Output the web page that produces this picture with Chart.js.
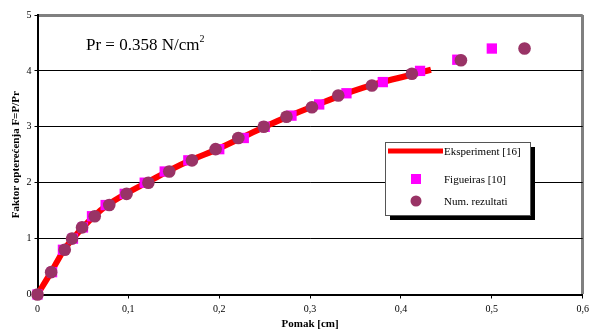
<!DOCTYPE html>
<html><head><meta charset="utf-8">
<script src="https://cdn.jsdelivr.net/npm/chart.js@4/dist/chart.umd.min.js"></script>
<style>html,body{margin:0;padding:0;background:#fff;}canvas{display:block;}</style>
</head><body>
<canvas id="c" width="590" height="331"></canvas>
<script>
const xTickLabels = ['0','0,1','0,2','0,3','0,4','0,5','0,6'];
const yTickLabels = ['0','1','2','3','4','5'];
const seriesLabels = ['Eksperiment [16]','Figueiras [10]','Num. rezultati'];

const expX = [0,0.015,0.029,0.039,0.05,0.062,0.077,0.097,0.12,0.143,0.168,0.198,0.224,0.25,0.278,0.307,0.337,0.375,0.433];
const expY = [0,0.4,0.8,1.0,1.2,1.4,1.6,1.8,2.0,2.2,2.4,2.6,2.8,3.0,3.2,3.39,3.58,3.78,4.02];

const figX = [0,0.016,0.028,0.039,0.05,0.06,0.075,0.096,0.118,0.14,0.166,0.2,0.227,0.25,0.2795,0.31,0.34,0.38,0.421,0.462,0.5];
const figY = [0,0.4,0.8,1.0,1.2,1.4,1.6,1.8,2.0,2.2,2.4,2.6,2.8,3.0,3.2,3.4,3.6,3.8,4.0,4.2,4.4];

const numX = [0,0.015,0.03,0.038,0.049,0.063,0.079,0.098,0.122,0.145,0.17,0.196,0.221,0.249,0.274,0.302,0.331,0.368,0.412,0.466,0.536];
const numY = [0,0.4,0.8,1.0,1.2,1.4,1.6,1.8,2.0,2.2,2.4,2.6,2.8,3.0,3.18,3.35,3.56,3.74,3.95,4.19,4.4];

const annotationText = 'Pr = 0.358 N/cm';
const annotationSup = '2';

const toPts = (xs, ys) => xs.map((x, i) => ({x: x, y: ys[i]}));
const SERIF = '"Liberation Serif", "Times New Roman", serif';

const legendPlugin = {
  id: 'boxLegend',
  afterDraw(chart) {
    const ctx = chart.ctx;
    const byLabel = (l) => chart.data.datasets.find(d => d.label === l);
    const dExp = byLabel(seriesLabels[0]), dFig = byLabel(seriesLabels[1]), dNum = byLabel(seriesLabels[2]);
    const bx = 385, by = 142, bw = 145, bh = 73;
    ctx.save();
    ctx.fillStyle = '#000';
    ctx.fillRect(bx + 5, by + 5, bw, bh);
    ctx.fillStyle = '#fff';
    ctx.fillRect(bx, by, bw, bh);
    ctx.strokeStyle = '#555';
    ctx.lineWidth = 1;
    ctx.strokeRect(bx + 0.5, by + 0.5, bw, bh);
    ctx.font = '11px ' + SERIF;
    ctx.textBaseline = 'middle';
    const rows = [151, 179, 201];
    ctx.strokeStyle = dExp.borderColor;
    ctx.lineWidth = 5;
    ctx.beginPath(); ctx.moveTo(388, rows[0]); ctx.lineTo(443, rows[0]); ctx.stroke();
    ctx.fillStyle = dFig.pointBackgroundColor;
    ctx.fillRect(411, rows[1] - 5, 10, 10);
    ctx.fillStyle = dNum.pointBackgroundColor;
    ctx.beginPath(); ctx.arc(416, rows[2], 5.5, 0, Math.PI * 2); ctx.fill();
    ctx.fillStyle = '#000';
    seriesLabels.forEach((t, i) => ctx.fillText(t, 444, rows[i] + 1));
    ctx.restore();
  }
};

const textPlugin = {
  id: 'prText',
  afterDraw(chart) {
    const ctx = chart.ctx;
    ctx.save();
    ctx.fillStyle = '#000';
    ctx.textBaseline = 'alphabetic';
    ctx.font = '17px ' + SERIF;
    ctx.fillText(annotationText, 86, 49.5);
    const w = ctx.measureText(annotationText).width;
    ctx.font = '10px ' + SERIF;
    ctx.fillText(annotationSup, 86 + w, 42);
    ctx.restore();
  }
};

new Chart(document.getElementById('c'), {
  type: 'scatter',
  data: {
    datasets: [
      {
        label: seriesLabels[2], data: toPts(numX, numY), order: 0, clip: false,
        pointStyle: 'circle', pointRadius: 6.3, pointHoverRadius: 6.3,
        pointBackgroundColor: '#993366', pointBorderColor: '#993366', pointBorderWidth: 0, showLine: false
      },
      {
        label: seriesLabels[1], data: toPts(figX, figY), order: 1, clip: false,
        pointStyle: 'rect', pointRadius: 7.3, pointHoverRadius: 7.3,
        pointBackgroundColor: '#ff00ff', pointBorderColor: '#ff00ff', pointBorderWidth: 0, showLine: false
      },
      {
        label: seriesLabels[0], data: toPts(expX, expY), order: 2, clip: false,
        showLine: true, borderColor: '#ff0000', borderWidth: 6, pointRadius: 0,
        tension: 0.2, borderCapStyle: 'butt', borderJoinStyle: 'round', fill: false
      }
    ]
  },
  options: {
    responsive: false,
    animation: false,
    events: [],
    layout: { padding: { top: 15, right: 5, left: 0, bottom: 0 } },
    plugins: { legend: { display: false }, tooltip: { enabled: false } },
    scales: {
      x: {
        type: 'linear', min: 0, max: 0.6,
        afterFit(s) { s.height = 36.5; s.paddingLeft = 0; s.paddingRight = 0; },
        border: { color: '#000', width: 2 },
        grid: {
          color: (c) => (c.tick && Math.abs(c.tick.value - 0.6) < 1e-6) ? '#808080' : 'rgba(0,0,0,0)',
          lineWidth: (c) => (c.tick && Math.abs(c.tick.value - 0.6) < 1e-6) ? 3 : 1,
          tickColor: '#000', tickWidth: 1, tickLength: 4, drawTicks: true
        },
        ticks: {
          stepSize: 0.1, autoSkip: false, maxRotation: 0, minRotation: 0, padding: 5,
          color: '#000', font: { family: SERIF, size: 10 },
          callback: (v, i) => xTickLabels[i]
        },
        title: {
          display: true, text: 'Pomak [cm]', color: '#000',
          font: { family: SERIF, size: 11, weight: 'bold' }, padding: { top: 0, bottom: 0 }
        }
      },
      y: {
        type: 'linear', min: 0, max: 5,
        afterFit(s) { s.width = 37.5; s.paddingTop = 0; s.paddingBottom = 0; },
        border: { color: '#000', width: 2 },
        grid: {
          color: (c) => (c.tick && c.tick.value === 5) ? '#808080' : '#000',
          lineWidth: (c) => (c.tick && c.tick.value === 5) ? 3 : 1,
          tickColor: '#000', tickWidth: 1, tickLength: 3
        },
        ticks: {
          stepSize: 1, padding: 3, color: '#000', font: { family: SERIF, size: 10 },
          callback: (v, i) => yTickLabels[i]
        },
        title: {
          display: true, text: 'Faktor opterećenja F=P/Pr', color: '#000',
          font: { family: SERIF, size: 11, weight: 'bold' }, padding: { top: 10, bottom: 0 }
        }
      }
    }
  },
  plugins: [legendPlugin, textPlugin]
});
</script>
</body></html>
